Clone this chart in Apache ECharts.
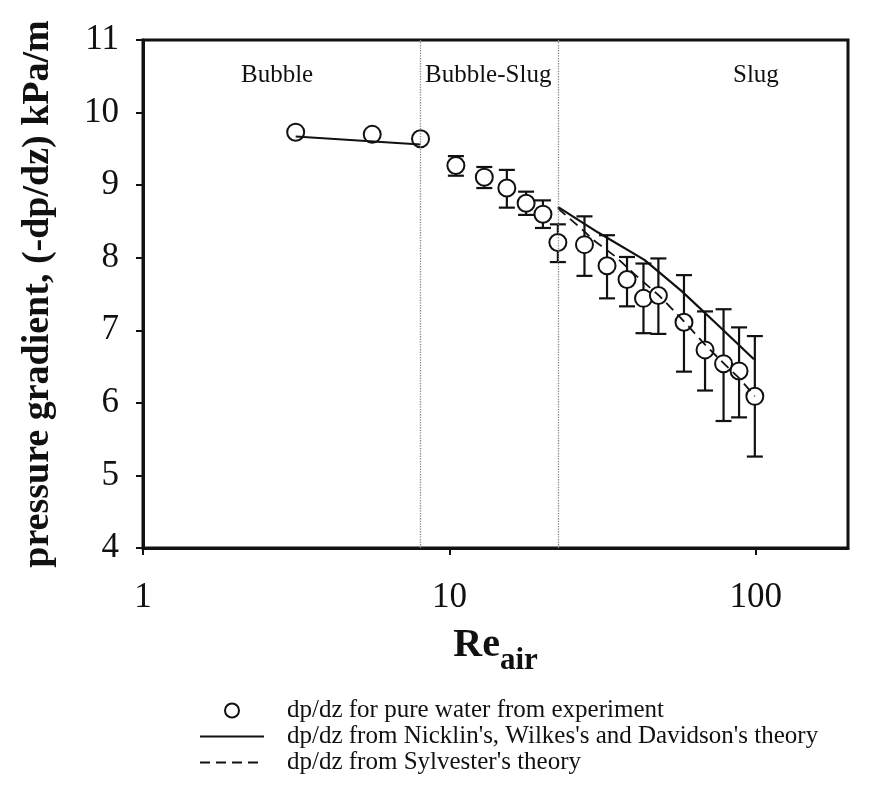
<!DOCTYPE html>
<html>
<head>
    <meta charset="utf-8">
    <script src="https://cdn.jsdelivr.net/npm/echarts@6/dist/echarts.min.js"></script>
    <style>
        html, body { margin: 0; padding: 0; background: #fff; }
        #main { width: 879px; height: 793px; }
    </style>
</head>
<body>
<div id="main"></div>
<script>
    // experimental points: Re_air, dp/dz (kPa/m), error bar low / high
    var reAir = [3.15, 5.6, 8.05, 10.5, 13.0, 15.4, 17.8, 20.2, 22.6, 27.6, 32.7, 38.0, 43.0, 48.1, 58.3, 68.3, 78.5, 88.2, 99.3];
    var dpdz = [9.73, 9.70, 9.64, 9.27, 9.11, 8.96, 8.75, 8.60, 8.21, 8.18, 7.89, 7.70, 7.44, 7.48, 7.11, 6.73, 6.54, 6.44, 6.09];
    var errLow = [null, null, null, 9.13, 8.96, 8.69, 8.59, 8.41, 7.94, 7.75, 7.44, 7.33, 6.96, 6.95, 6.43, 6.17, 5.75, 5.80, 5.26];
    var errHigh = [null, null, null, 9.40, 9.25, 9.21, 8.91, 8.79, 8.46, 8.57, 8.31, 8.01, 7.92, 7.99, 7.76, 7.26, 7.29, 7.04, 6.92];

    // Nicklin / Wilkes / Davidson theory (bubble part and slug part)
    var nicklinBubble = [[3.15, 9.67], [8.05, 9.56]];
    var nicklinSlug = [[22.6, 8.70], [30.5, 8.35], [43.3, 7.97], [57.3, 7.54], [75.8, 7.06], [98.6, 6.60]];
    // Sylvester theory
    var sylvester = [[22.6, 8.68], [26.3, 8.44], [30, 8.22], [35, 8.01], [40, 7.78], [48.3, 7.48], [58.4, 7.12], [68.7, 6.79], [79.2, 6.53], [88.8, 6.33], [99.3, 6.09]];

    // flow regime boundaries and names
    var regimeBounds = [8.05, 22.6];
    var regimeNames = ['Bubble', 'Bubble-Slug', 'Slug'];

    var xTicks = [1, 10, 100];
    var legendNames = [
        'dp/dz for pure water from experiment',
        "dp/dz from Nicklin's, Wilkes's and Davidson's theory",
        "dp/dz from Sylvester's theory"
    ];

    var serif = 'Liberation Serif';
    var ink = '#111';

    var points = reAir.map(function (x, i) { return [x, dpdz[i]]; });
    var errData = [];
    reAir.forEach(function (x, i) {
        if (errLow[i] != null) errData.push([x, errLow[i], errHigh[i]]);
    });
    // bubble part and slug part of the same theory, with a gap between
    var nicklinData = nicklinBubble.concat([[null, null]]).concat(nicklinSlug);

    var myChart = echarts.init(document.getElementById('main'));

    var option = {
        backgroundColor: '#fff',
        animation: false,
        grid: {
            left: 143, top: 40, width: 705, height: 508,
            show: true, borderColor: ink, borderWidth: 3, backgroundColor: 'transparent'
        },
        legend: {
            orient: 'vertical',
            left: 194, top: 693,
            itemWidth: 64, itemHeight: 14, itemGap: 1,
            data: legendNames,
            textStyle: { fontFamily: serif, fontSize: 25, color: ink, padding: [0, 0, 0, 18] }
        },
        xAxis: {
            type: 'log', logBase: 10, min: 1, max: 200,
            splitLine: { show: false },
            axisLine: { lineStyle: { color: ink, width: 3 } },
            axisTick: { length: 7, lineStyle: { color: ink, width: 2 }, customValues: xTicks },
            axisLabel: {
                fontFamily: serif, fontSize: 35, color: ink, margin: 32,
                customValues: xTicks,
                formatter: function (v) { return xTicks.indexOf(v) >= 0 ? String(v) : ''; }
            },
            name: '{a|Re}{b|air}',
            nameLocation: 'middle',
            nameGap: 78,
            nameTextStyle: {
                rich: {
                    a: { fontFamily: serif, fontWeight: 'bold', fontSize: 40, color: ink, verticalAlign: 'bottom', padding: [0, 0, 10, 0] },
                    b: { fontFamily: serif, fontWeight: 'bold', fontSize: 31, color: ink, verticalAlign: 'bottom' }
                }
            }
        },
        yAxis: {
            type: 'value', min: 4, max: 11, interval: 1,
            splitLine: { show: false },
            axisLine: { show: true, lineStyle: { color: ink, width: 3 } },
            axisTick: { show: true, length: 7, lineStyle: { color: ink, width: 2 } },
            axisLabel: { fontFamily: serif, fontSize: 35, color: ink, margin: 24 },
            name: 'pressure gradient, (-dp/dz) kPa/m',
            nameLocation: 'middle',
            nameGap: 86,
            nameTextStyle: { fontFamily: serif, fontWeight: 'bold', fontSize: 38, color: ink }
        },
        graphic: [
            { type: 'text', left: 241, top: 63, style: { text: regimeNames[0], font: '25px "Liberation Serif"', fill: ink } },
            { type: 'text', left: 425, top: 63, style: { text: regimeNames[1], font: '25px "Liberation Serif"', fill: ink } },
            { type: 'text', left: 733, top: 63, style: { text: regimeNames[2], font: '25px "Liberation Serif"', fill: ink } }
        ],
        series: [
            {
                name: 'error',
                type: 'custom',
                z: 2,
                encode: { x: 0, y: [1, 2] },
                data: errData,
                renderItem: function (params, api) {
                    var x = api.value(0);
                    var lo = api.coord([x, api.value(1)]);
                    var hi = api.coord([x, api.value(2)]);
                    var w = 8;
                    var st = { stroke: ink, lineWidth: 2.2 };
                    return {
                        type: 'group',
                        children: [
                            { type: 'line', shape: { x1: hi[0], y1: hi[1], x2: lo[0], y2: lo[1] }, style: st },
                            { type: 'line', shape: { x1: hi[0] - w, y1: hi[1], x2: hi[0] + w, y2: hi[1] }, style: st },
                            { type: 'line', shape: { x1: lo[0] - w, y1: lo[1], x2: lo[0] + w, y2: lo[1] }, style: st }
                        ]
                    };
                }
            },
            {
                name: legendNames[0],
                type: 'scatter',
                z: 3,
                symbol: 'circle',
                symbolSize: 17,
                itemStyle: { color: '#fff', borderColor: ink, borderWidth: 2, opacity: 1 },
                data: points,
                markLine: {
                    silent: true,
                    symbol: 'none',
                    label: { show: false },
                    lineStyle: { type: 'dotted', color: '#888', width: 1.3 },
                    data: regimeBounds.map(function (v) { return { xAxis: v }; })
                }
            },
            {
                name: legendNames[1],
                type: 'line',
                z: 4,
                symbol: 'none',
                connectNulls: false,
                itemStyle: { color: 'rgba(0,0,0,0)' },
                lineStyle: { color: ink, width: 2.2 },
                data: nicklinData
            },
            {
                name: legendNames[2],
                type: 'line',
                z: 4,
                symbol: 'none',
                itemStyle: { color: 'rgba(0,0,0,0)' },
                lineStyle: { color: ink, width: 1.8, type: [10, 6] },
                data: sylvester
            }
        ]
    };

    myChart.setOption(option);
</script>
</body>
</html>
